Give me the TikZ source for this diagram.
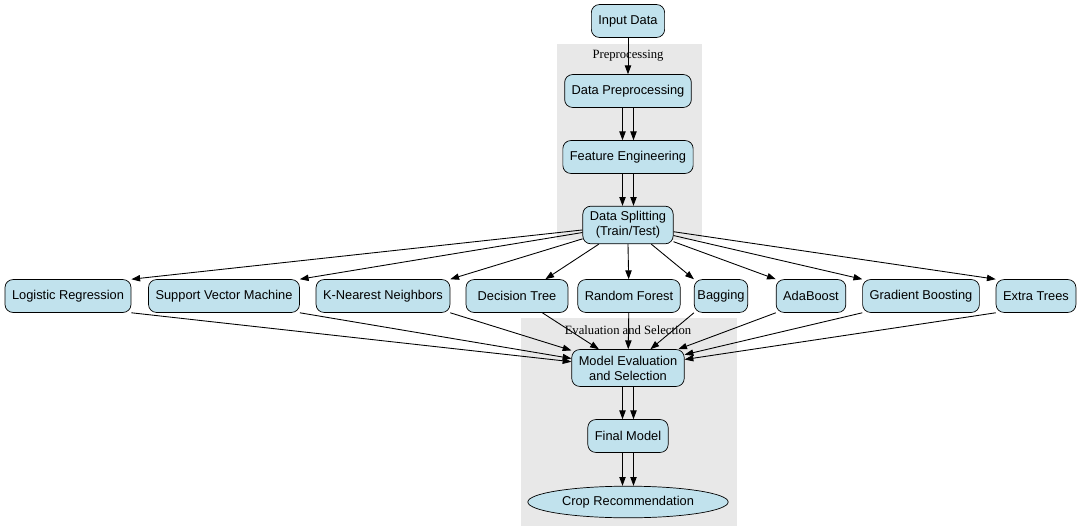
\documentclass[tikz,border=0pt]{standalone}
\usepackage{fontspec}
\setmainfont{Liberation Serif}
\newfontfamily\boxfont{Liberation Sans}
\usetikzlibrary{arrows.meta,shapes.geometric}
\definecolor{boxblue}{RGB}{193,226,237}
\definecolor{clustergray}{RGB}{232,232,232}
\begin{document}
\begin{tikzpicture}[x=0.02cm,y=-0.02cm,
	box/.style={draw, fill=boxblue, rounded corners=4.5pt, minimum height=18.7pt, inner xsep=4pt, inner ysep=2pt, align=center, font=\boxfont\fontsize{7.3}{8.6}\selectfont},
	oval/.style={draw, fill=boxblue, ellipse, minimum width=114pt, minimum height=18pt, inner sep=1pt, font=\boxfont\fontsize{7.3}{8.6}\selectfont},
	clusterlabel/.style={font=\fontsize{7.2}{8}\selectfont, inner sep=0pt},
	arr/.style={-{Triangle[length=5pt,width=3.6pt]}, line width=0.5pt}]
	\useasboundingbox (0,0) rectangle (1080,531);
	% clusters
	\fill [clustergray] (557,44) rectangle (702,240);
	\fill [clustergray] (521,318) rectangle (737,526);
	\node [clusterlabel] (prelabel) at (628,56) {Preprocessing};
	\node [clusterlabel] (evallabel) at (628,330) {Evaluation and Selection};
	% pipeline
	\node [box] (input) at (628,21) {Input Data};
	\node [box] (prep) at (628,91) {Data Preprocessing};
	\node [box] (feat) at (628,157) {Feature Engineering};
	\node [box, inner ysep=3pt] (split) at (628,225) {Data Splitting\\(Train/Test)};
	% models
	\node [box] (lr) at (68,296) {Logistic Regression};
	\node [box] (svm) at (224,296) {Support Vector Machine};
	\node [box] (knn) at (383,296) {K-Nearest Neighbors};
	\node [box, minimum width=2.04cm] (dt) at (517,296) {Decision Tree};
	\node [box] (rf) at (629,296) {Random Forest};
	\node [box, inner xsep=1.8pt] (bag) at (721,296) {Bagging};
	\node [box] (ada) at (811,296) {AdaBoost};
	\node [box] (gb) at (921,296) {Gradient Boosting};
	\node [box] (et) at (1036,296) {Extra Trees};
	% evaluation
	\node [box, inner ysep=3.5pt] (eval) at (628,368) {Model Evaluation\\and Selection};
	\node [box] (final) at (628,436) {Final Model};
	\node [oval] (crop) at (628,502) {Crop Recommendation};
	% edges
	\draw [arr] (input) -- (prep);
	\foreach \a/\b in {prep/feat, feat/split, eval/final, final/crop} {
		\draw [arr] ([xshift=-0.11cm]\a.south) -- ([xshift=-0.11cm]\b.north);
		\draw [arr] ([xshift=0.11cm]\a.south) -- ([xshift=0.11cm]\b.north);
	}
	\foreach \m/\up/\dn in {lr/north east/south east, svm/north east/south east, knn/north east/south east,
		bag/north west/south west, ada/north west/south west, gb/north west/south west, et/north west/south west} {
		\draw [arr] (split) -- (\m.\up);
		\draw [arr] (\m.\dn) -- (eval);
	}
	\draw [arr] (split) -- ([xshift=-0.46cm]dt.north east);
	\draw [arr] ([xshift=-0.52cm]dt.south east) -- (eval);
	\draw [arr] (split.south) -- (rf);
	\draw [arr] (rf) -- (eval);
\end{tikzpicture}
\end{document}
